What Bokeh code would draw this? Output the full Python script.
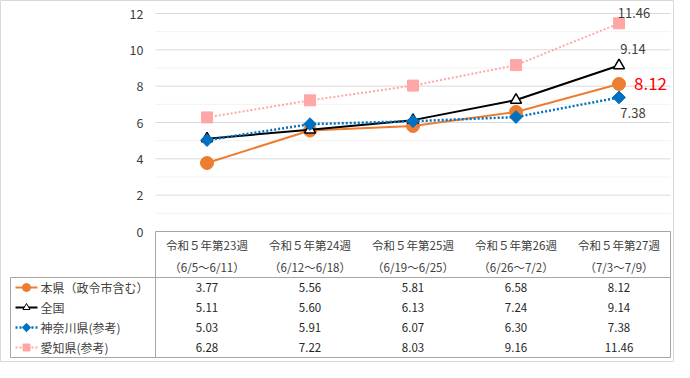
import math
from bokeh.plotting import figure
from bokeh.models import Range1d
from bokeh.core.properties import value
from bokeh.embed import file_html
from bokeh.resources import INLINE

# ---------------- data ----------------
weeks = ["令和５年第23週", "令和５年第24週", "令和５年第25週", "令和５年第26週", "令和５年第27週"]
periods = ["（6/5～6/11）", "（6/12～6/18）", "（6/19～6/25）", "（6/26～7/2）", "（7/3～7/9）"]
series_names = ["本県（政令市含む）", "全国", "神奈川県(参考)", "愛知県(参考)"]
honken = [3.77, 5.56, 5.81, 6.58, 8.12]
zenkoku = [5.11, 5.60, 6.13, 7.24, 9.14]
kanagawa = [5.03, 5.91, 6.07, 6.30, 7.38]
aichi = [6.28, 7.22, 8.03, 9.16, 11.46]
y_ticks = [0, 2, 4, 6, 8, 10, 12]

# ---------------- geometry ----------------
W, H = 674, 362
X0, CW = 155, 103          # pixel x of first column, column width
Y0 = 231                   # pixel y of value 0
PPU = 218 / 12             # pixels per unit
FONT = "Noto Sans CJK JP"

def ux(px):
    return (px - X0) / CW

def vy(py):
    return (Y0 - py) / PPU

n = len(weeks)
xs = [i + 0.5 for i in range(n)]

p = figure(width=W, height=H, output_backend="svg", toolbar_location=None,
           x_range=Range1d(ux(0), ux(W)), y_range=Range1d(vy(H), vy(0)),
           x_axis_location=None, y_axis_location=None, min_border=0)
p.grid.visible = False
p.outline_line_color = "#d9d9d9"
p.outline_line_width = 1
p.background_fill_color = "white"
p.border_fill_color = "white"

# grid lines (major on ticks, minor half-way)
major = [t for t in y_ticks if t > 0]
minor = [(a + b) / 2 for a, b in zip(y_ticks[:-1], y_ticks[1:])]
p.segment(x0=[0] * len(minor), x1=[n] * len(minor), y0=minor, y1=minor,
          line_color="#f2f2f2", line_width=1)
p.segment(x0=[0] * len(major), x1=[n] * len(major), y0=major, y1=major,
          line_color="#d9d9d9", line_width=1)

# y tick labels
p.text(x=[ux(143)] * len(y_ticks), y=y_ticks, text=[str(t) for t in y_ticks],
       text_align="right", text_baseline="middle", text_color="#404040",
       text_font=value(FONT), text_font_size=value("12.5px"))

# ---------------- table ----------------
TC = "#a6a6a6"
hdr_bot, tbl_bot, tbl_left = vy(277), vy(357), ux(10)
p.segment(x0=[0, tbl_left, tbl_left, 0, n, tbl_left],
          x1=[n, n, n, 0, n, tbl_left],
          y0=[0, hdr_bot, tbl_bot, 0, 0, hdr_bot],
          y1=[0, hdr_bot, tbl_bot, tbl_bot, tbl_bot, tbl_bot],
          line_color=TC, line_width=1)

p.text(x=xs, y=[vy(244)] * n, text=weeks, text_align="center", text_baseline="middle",
       text_color="#404040", text_font=value(FONT), text_font_size=value("11.5px"))
p.text(x=xs, y=[vy(266)] * n, text=periods, text_align="center", text_baseline="middle",
       text_color="#404040", text_font=value(FONT), text_font_size=value("11.5px"))

all_series = [honken, zenkoku, kanagawa, aichi]
for r, ser in enumerate(all_series):
    yrow = vy(287 + 20 * r)
    p.text(x=xs, y=[yrow] * n, text=[f"{v:.2f}" for v in ser], text_align="center",
           text_baseline="middle", text_color="#262626", text_font=value(FONT),
           text_font_size=value("11.5px"))

# series styles
styles = [
    dict(color="#ED7D31", dash="solid", width=2, marker="circle", size=13, fill="#ED7D31", mline="#ED7D31", angle=0),
    dict(color="#000000", dash="solid", width=2, marker="triangle", size=11, fill="white", mline="#000000", angle=0),
    dict(color="#0070C0", dash="2 2", width=2.5, marker="square", size=9, fill="#0070C0", mline="#0070C0", angle=math.pi / 4),
    dict(color="#FFA6A6", dash="2 2", width=2, marker="square", size=11, fill="#FFA6A6", mline="#FFA6A6", angle=0),
]
legend_sizes = [8, 7, 6, 7]

for r, (ser, st, name) in enumerate(zip(all_series, styles, series_names)):
    p.line(xs, ser, line_color=st["color"], line_width=st["width"], line_dash=st["dash"])
    p.scatter(xs, ser, marker=st["marker"], size=st["size"], fill_color=st["fill"],
              line_color=st["mline"], angle=st["angle"],
              line_width=1.5 if st["marker"] == "triangle" else 1)
    # legend in table
    yrow = vy(287 + 20 * r)
    p.line([ux(15), ux(37)], [yrow, yrow], line_color=st["color"], line_width=st["width"],
           line_dash=st["dash"])
    p.scatter([ux(26)], [yrow], marker=st["marker"], size=legend_sizes[r], fill_color=st["fill"],
              line_color=st["mline"], line_width=1, angle=st["angle"])
    p.text(x=[ux(40)], y=[yrow], text=[name], text_align="left", text_baseline="middle",
           text_color="#404040", text_font=value(FONT), text_font_size=value("12px"))

# data labels on the last week
lx = xs[-1]
p.text(x=[lx], y=[aichi[-1]], text=[f"{aichi[-1]:.2f}"], x_offset=15, y_offset=-10,
       text_align="center", text_baseline="middle", text_color="#404040",
       text_font=value(FONT), text_font_size=value("13px"))
p.text(x=[lx], y=[zenkoku[-1]], text=[f"{zenkoku[-1]:.2f}"], x_offset=14, y_offset=-16,
       text_align="center", text_baseline="middle", text_color="#404040",
       text_font=value(FONT), text_font_size=value("13px"))
p.text(x=[lx], y=[kanagawa[-1]], text=[f"{kanagawa[-1]:.2f}"], x_offset=14, y_offset=16,
       text_align="center", text_baseline="middle", text_color="#404040",
       text_font=value(FONT), text_font_size=value("13px"))
p.text(x=[lx], y=[honken[-1]], text=[f"{honken[-1]:.2f}"], x_offset=15, y_offset=0,
       text_align="left", text_baseline="middle", text_color="#FF0000",
       text_font=value(FONT), text_font_size=value("17px"))

open("out.html", "w").write(file_html(p, INLINE))
